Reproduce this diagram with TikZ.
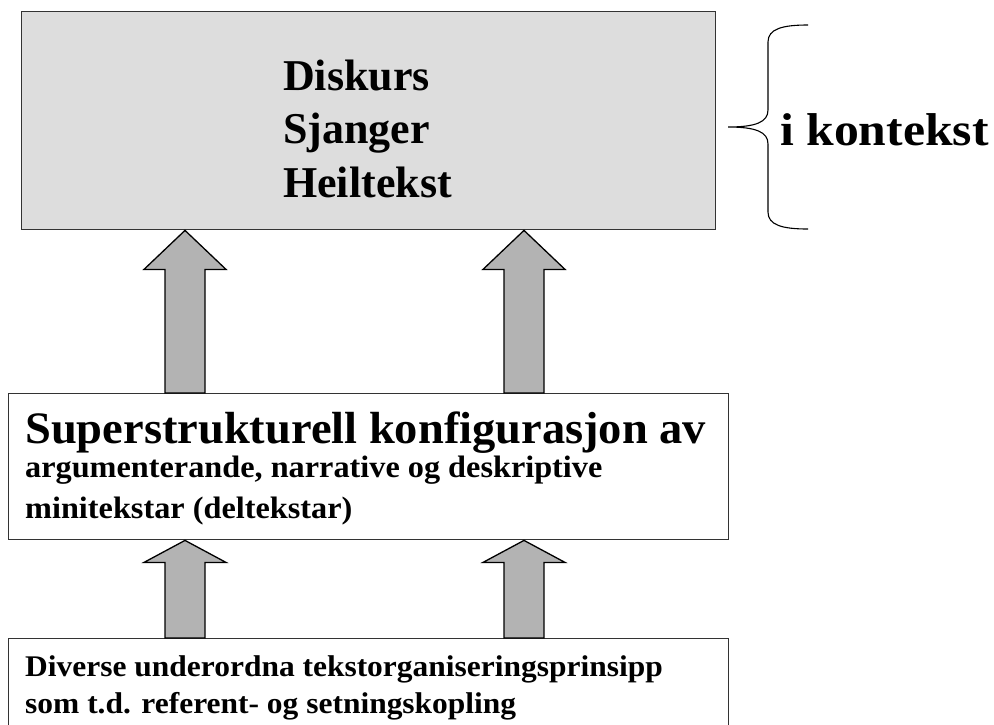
\documentclass[tikz,border=0pt]{standalone}
\usepackage{fontspec}
\setmainfont{Liberation Serif}
\usetikzlibrary{calc}
\definecolor{boxgray}{RGB}{221,221,221}
\definecolor{arrowgray}{RGB}{179,179,179}
\definecolor{edgegray}{RGB}{51,51,51}
\tikzset{
  levelbox/.style={draw=edgegray, line width=1.4pt, inner sep=0pt, anchor=north west},
  blockarrow/.style={draw=black, fill=arrowgray, line width=1.3pt, line join=miter},
  label/.style={inner sep=0pt, anchor=base west, font=\bfseries},
}
% wide block arrow pointing up from the top of #1 to the bottom of #2
\newcommand\liftarrow[4]{%
  \coordinate (ax) at (#3,0);
  \path (#1.north -| ax) coordinate (ab) (#2.south -| ax) coordinate (at);
  \draw[blockarrow] ($(ab)+(-20,0)$) -- ($(at)+(-20,#4)$) -- ($(at)+(-41,#4)$)
    -- (at) -- ($(at)+(41,#4)$) -- ($(at)+(20,#4)$) -- ($(ab)+(20,0)$) -- cycle;
}
% horizontally widened text
\newcommand\wide[2]{\scalebox{#1}[1]{#2}}
\begin{document}
\begin{tikzpicture}[x=1pt, y=-1pt]
  \useasboundingbox (0,0) rectangle (994,724);
  \clip (0,0) rectangle (994,724);

  % levels
  \node[levelbox, fill=boxgray, minimum width=694pt, minimum height=218pt] (top) at (21,11) {};
  \node[levelbox, fill=white, minimum width=720pt, minimum height=146pt] (mid) at (8,393) {};
  \node[levelbox, fill=white, minimum width=720pt, minimum height=140pt] (low) at (8,638) {};

  % texts
  \node[label, font=\bfseries\fontsize{44}{54}\selectfont] (t1) at (283,90) {Diskurs};
  \node[label, font=\bfseries\fontsize{44}{54}\selectfont] (t2) at (283,143.5) {Sjanger};
  \node[label, font=\bfseries\fontsize{44}{54}\selectfont] (t3) at (283,197) {Heiltekst};

  \node[label, font=\bfseries\fontsize{45}{54}\selectfont] (m1) at (25,443) {\wide{1.033}{Superstrukturell konfigurasjon av}};
  \node[label, font=\bfseries\fontsize{31}{40}\selectfont] (m2) at (25,477) {\wide{1.041}{argumenterande, narrative og deskriptive}};
  \node[label, font=\bfseries\fontsize{31}{40}\selectfont] (m3) at (25,518) {\wide{1.041}{minitekstar (deltekstar)}};

  \node[label, font=\bfseries\fontsize{30}{38}\selectfont] (l1) at (25,676) {\wide{1.049}{Diverse underordna tekstorganiseringsprinsipp}};
  \node[label, font=\bfseries\fontsize{30}{38}\selectfont] (l2) at (25,713) {\wide{1.049}{som t.d. referent- og setningskopling}};

  % context brace and label
  \coordinate (btip) at (728,127);
  \draw[line width=1.1pt] (808,25) .. controls (782,25) and (768,29) .. (768,42)
    -- (768,110) .. controls (768,122) and (756,127) .. (btip)
    .. controls (756,127) and (768,132) .. (768,144)
    -- (768,212) .. controls (768,225) and (782,229) .. (808,229);
  \node[label, font=\bfseries\fontsize{46}{54}\selectfont] (ctx) at (780,145) {\wide{1.08}{i kontekst}};

  % arrows between levels
  \liftarrow{mid}{top}{185}{39}
  \liftarrow{mid}{top}{524}{39}
  \liftarrow{low}{mid}{185}{22}
  \liftarrow{low}{mid}{524}{22}
\end{tikzpicture}
\end{document}
